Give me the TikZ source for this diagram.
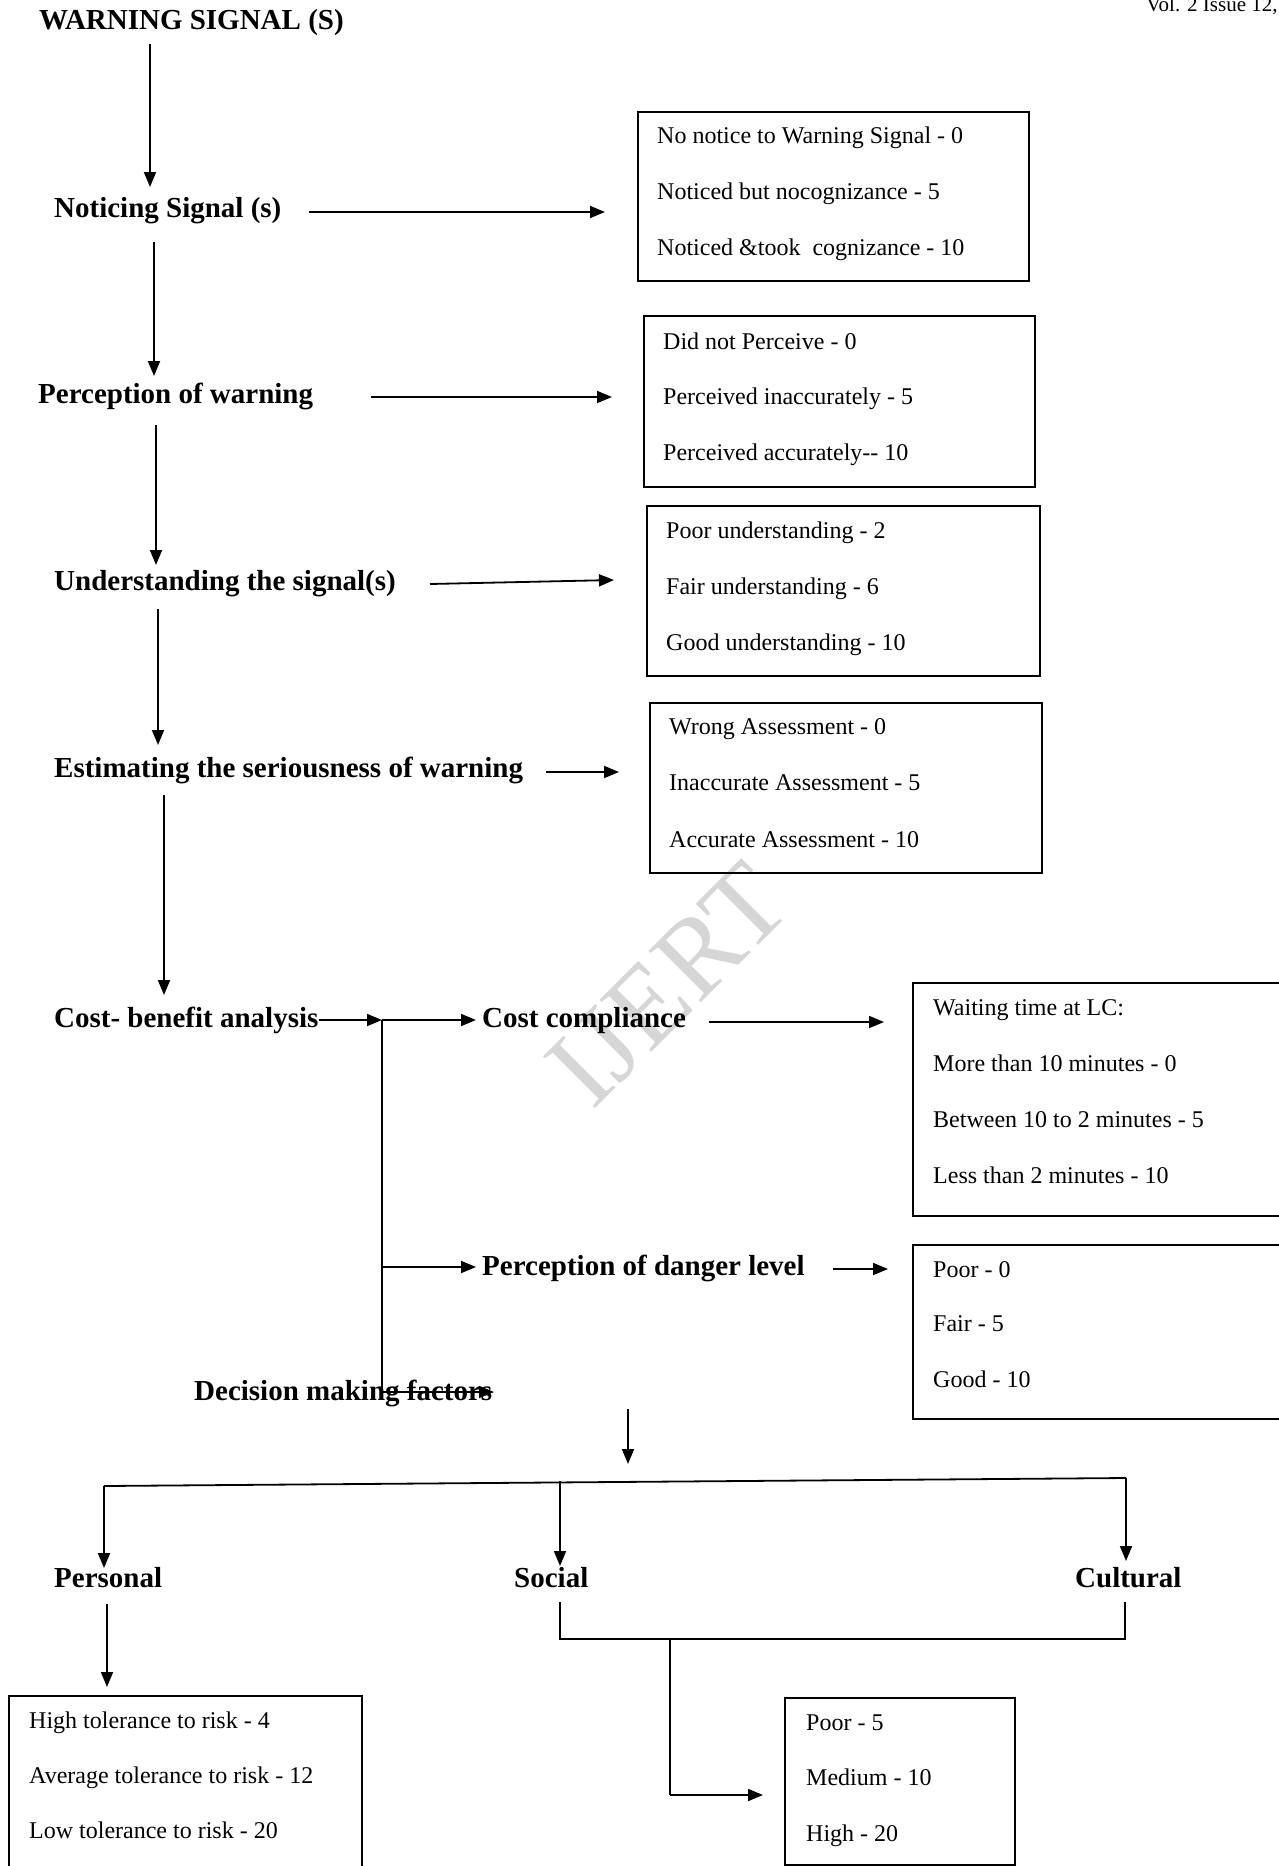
\documentclass[tikz,border=0pt]{standalone}
\usepackage{fontspec}
\setmainfont{Liberation Serif}
\usetikzlibrary{arrows.meta}
\begin{document}
\begin{tikzpicture}[x=1pt,y=-1pt,
  lbl/.style={font=\fontsize{29}{34}\selectfont\bfseries, inner sep=0, anchor=west, text height=0.7em, text depth=0.2em},
  itm/.style={font=\fontsize{24}{28}\selectfont, inner sep=0, anchor=west, text height=0.7em, text depth=0.2em},
  arr/.style={line width=1.8pt, -{Triangle[length=15pt,width=12pt]}},
  ln/.style={line width=1.8pt},
  bx/.style={draw, line width=1.8pt, inner sep=0, anchor=north west}]
\useasboundingbox (0,0) rectangle (1278,1866);
% watermark
\node[rotate=45, font=\fontsize{112}{112}\selectfont, text=black!16, inner sep=0] (wm) at (668,985) {IJERT};
% header
\node[font=\fontsize{21}{24}\selectfont, inner sep=0, anchor=west] (vol) at (1146,6) {Vol. 2 Issue 12,};
% main column
\node[lbl] (ws) at (39,27) {WARNING SIGNAL (S)};
\node[lbl] (ns) at (54,215) {Noticing Signal (s)};
\node[lbl] (pw) at (38,401) {Perception of warning};
\node[lbl] (us) at (54,588) {Understanding the signal(s)};
\node[lbl] (es) at (54,775) {Estimating the seriousness of warning};
\node[lbl] (cb) at (54,1025) {Cost- benefit analysis};
\node[lbl] (cc) at (482,1025) {Cost compliance};
\node[lbl] (pd) at (482,1273) {Perception of danger level};
\node[lbl] (dm) at (194,1398) {Decision making factors};
\node[lbl] (pe) at (54,1585) {Personal};
\node[lbl] (so) at (514,1585) {Social};
\node[lbl] (cu) at (1075,1585) {Cultural};
% boxes
\node[bx, minimum width=391pt, minimum height=169pt] (b1) at (637,111) {};
\node[itm] at (657,141) {No notice to Warning Signal - 0};
\node[itm] at (657,197) {Noticed but nocognizance - 5};
\node[itm] at (657,253) {Noticed \&took\ \ cognizance - 10};
\node[bx, minimum width=391pt, minimum height=171pt] (b2) at (643,315) {};
\node[itm] at (663,347) {Did not Perceive - 0};
\node[itm] at (663,402) {Perceived inaccurately - 5};
\node[itm] at (663,458) {Perceived accurately-{}- 10};
\node[bx, minimum width=393pt, minimum height=170pt] (b3) at (646,505) {};
\node[itm] at (666,536) {Poor understanding - 2};
\node[itm] at (666,592) {Fair understanding - 6};
\node[itm] at (666,648) {Good understanding - 10};
\node[bx, minimum width=392pt, minimum height=170pt] (b4) at (649,702) {};
\node[itm] at (669,732) {Wrong Assessment - 0};
\node[itm] at (669,788) {Inaccurate Assessment - 5};
\node[itm] at (669,845) {Accurate Assessment - 10};
\node[bx, minimum width=400pt, minimum height=233pt] (b5) at (912,982) {};
\node[itm] at (933,1013) {Waiting time at LC:};
\node[itm] at (933,1069) {More than 10 minutes - 0};
\node[itm] at (933,1125) {Between 10 to 2 minutes - 5};
\node[itm] at (933,1181) {Less than 2 minutes - 10};
\node[bx, minimum width=400pt, minimum height=174pt] (b6) at (912,1244) {};
\node[itm] at (933,1275) {Poor - 0};
\node[itm] at (933,1329) {Fair - 5};
\node[itm] at (933,1385) {Good - 10};
\node[bx, minimum width=353pt, minimum height=200pt] (b7) at (8,1695) {};
\node[itm] at (29,1726) {High tolerance to risk - 4};
\node[itm] at (29,1781) {Average tolerance to risk - 12};
\node[itm] at (29,1836) {Low tolerance to risk - 20};
\node[bx, minimum width=230pt, minimum height=167pt] (b8) at (784,1697) {};
\node[itm] at (806,1728) {Poor - 5};
\node[itm] at (806,1783) {Medium - 10};
\node[itm] at (806,1839) {High - 20};
% vertical chain
\draw[arr] (150,44) coordinate (a0) -- (150,187) coordinate (a0e);
\draw[arr] (154,242) coordinate (a1) -- (154,376) coordinate (a1e);
\draw[arr] (156,425) coordinate (a2) -- (156,565) coordinate (a2e);
\draw[arr] (158,609) coordinate (a3) -- (158,745) coordinate (a3e);
\draw[arr] (164,795) coordinate (a4) -- (164,995) coordinate (a4e);
% right arrows to boxes
\draw[arr] (309,212) coordinate (r1) -- (605,212) coordinate (r1e);
\draw[arr] (371,397) coordinate (r2) -- (612,397) coordinate (r2e);
\draw[arr] (430,584) coordinate (r3) -- (614,580) coordinate (r3e);
\draw[arr] (546,772) coordinate (r4) -- (619,772) coordinate (r4e);
\draw[arr] (709,1022) coordinate (r5) -- (884,1022) coordinate (r5e);
\draw[arr] (833,1269) coordinate (r6) -- (888,1269) coordinate (r6e);
% cost-benefit branching
\coordinate (j) at (382,1020);
\draw[arr] (cb.east |- j) -- (j);
\draw[arr, shorten >=6pt] (j) -- (cc.west |- j);
\draw[ln, line width=1.5pt] (j) -- (382,1392) coordinate (jb);
\draw[arr, shorten >=6pt] (382,1267) coordinate (jm) -- (pd.west |- jm);
\draw[arr] (jb) -- (494,1392) coordinate (jbe);
% decision making factors split
\draw[arr] (628,1409) coordinate (d0) -- (628,1464) coordinate (d0e);
\coordinate (hl) at (104,1486);
\coordinate (hr) at (1126,1478);
\draw[ln] (hl) -- (hr);
\draw[arr] (hl) -- (104,1568);
\draw[arr] (560,1481) -- (560,1566);
\draw[arr] (hr) -- (1126,1561);
% personal
\draw[arr] (107,1604) -- (107,1687);
% social & cultural
\draw[ln] (560,1602) -- (560,1639) -- (1125,1639) -- (1125,1602);
\draw[ln] (670,1639) -- (670,1795) coordinate (sc);
\draw[arr] (sc) -- (763,1795);
\end{tikzpicture}
\end{document}
